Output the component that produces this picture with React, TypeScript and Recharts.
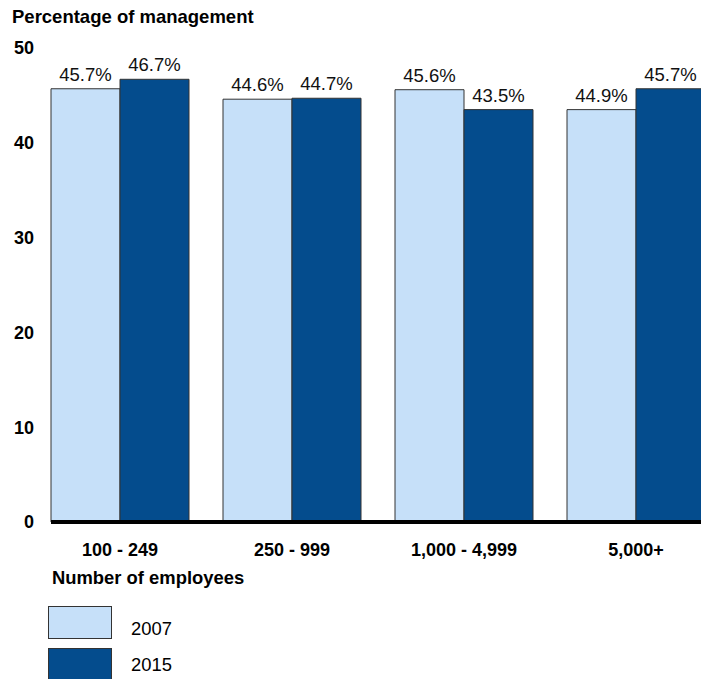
import React from 'react';
import { BarChart, Bar, XAxis, YAxis, LabelList } from 'recharts';

const categories = ['100 - 249', '250 - 999', '1,000 - 4,999', '5,000+'];
const values2007 = [45.7, 44.6, 45.6, 43.5];
const values2015 = [46.7, 44.7, 43.5, 45.7];
const labels2007 = ['45.7%', '44.6%', '45.6%', '44.9%'];
const labels2015 = ['46.7%', '44.7%', '43.5%', '45.7%'];
const yTicks = [0, 10, 20, 30, 40, 50];

const LIGHT = '#C6E0F9';
const DARK = '#044C8D';
const FONT = '"Liberation Sans", Arial, Helvetica, sans-serif';

const data = categories.map((c, i) => ({
  category: c,
  v2007: values2007[i],
  v2015: values2015[i],
  l2007: labels2007[i],
  l2015: labels2015[i],
}));

export default function App() {
  return (
    <div
      style={{
        position: 'fixed',
        left: 0,
        top: 0,
        width: 701,
        height: 679,
        overflow: 'hidden',
        fontFamily: FONT,
        color: '#000',
        background: '#fff',
      }}
    >
      <div style={{ position: 'absolute', left: 8, top: 8 }}>
        <BarChart
          width={720}
          height={600}
          data={data}
          margin={{ top: 40, right: 23, left: 0, bottom: 0 }}
          barCategoryGap={17}
          barGap={0}
        >
          <XAxis
            dataKey="category"
            interval={0}
            height={86}
            tickLine={false}
            tickSize={0}
            tickMargin={21}
            axisLine={{ stroke: '#000', strokeWidth: 4 }}
            padding={{ left: -17, right: -17 }}
            tick={{ fill: '#000', fontSize: 18, fontWeight: 'bold', fontFamily: FONT }}
          />
          <YAxis
            domain={[0, 50]}
            ticks={yTicks}
            width={43}
            axisLine={false}
            tickLine={false}
            tickSize={0}
            tickMargin={17}
            tick={{ fill: '#000', fontSize: 18, fontWeight: 'bold', fontFamily: FONT }}
          />
          <Bar dataKey="v2007" fill={LIGHT} stroke="#333" strokeWidth={1} isAnimationActive={false}>
            <LabelList
              dataKey="l2007"
              position="top"
              offset={8}
              style={{ fill: '#111', fontSize: 18.5, fontFamily: FONT }}
            />
          </Bar>
          <Bar dataKey="v2015" fill={DARK} stroke="#333" strokeWidth={1} isAnimationActive={false}>
            <LabelList
              dataKey="l2015"
              position="top"
              offset={8}
              style={{ fill: '#111', fontSize: 18.5, fontFamily: FONT }}
            />
          </Bar>
        </BarChart>
      </div>

      <div
        style={{
          position: 'absolute',
          left: 12,
          top: 7.5,
          fontSize: 18.5,
          lineHeight: 1,
          fontWeight: 'bold',
          whiteSpace: 'nowrap',
        }}
      >
        Percentage of management
      </div>

      <div
        style={{
          position: 'absolute',
          left: 52,
          top: 568.5,
          fontSize: 18.4,
          lineHeight: 1,
          fontWeight: 'bold',
          whiteSpace: 'nowrap',
        }}
      >
        Number of employees
      </div>

      <div
        style={{
          position: 'absolute',
          left: 48,
          top: 606,
          width: 64,
          height: 33,
          boxSizing: 'border-box',
          background: LIGHT,
          border: '1px solid #333',
        }}
      />
      <div
        style={{
          position: 'absolute',
          left: 48,
          top: 648,
          width: 64,
          height: 33,
          boxSizing: 'border-box',
          background: DARK,
          border: '1px solid #333',
        }}
      />
      <div style={{ position: 'absolute', left: 131, top: 620, fontSize: 18.4, lineHeight: 1, whiteSpace: 'nowrap' }}>2007</div>
      <div style={{ position: 'absolute', left: 131, top: 656, fontSize: 18.4, lineHeight: 1, whiteSpace: 'nowrap' }}>2015</div>
    </div>
  );
}
